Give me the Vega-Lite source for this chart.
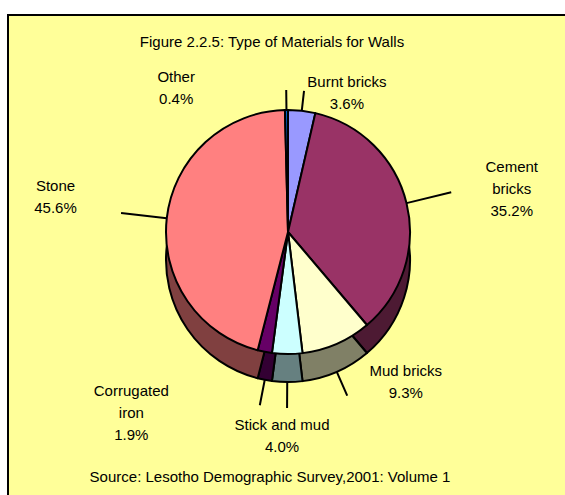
{
  "$schema": "https://vega.github.io/schema/vega-lite/v6.json",
  "width": 560,
  "height": 485,
  "autosize": "none",
  "padding": {"left": 8, "top": 15, "right": 0, "bottom": 0},
  "background": "white",
  "view": {"fill": "#ffff99", "stroke": "black", "strokeWidth": 2},
  "config": {
    "font": "Liberation Sans",
    "text": {"font": "Liberation Sans", "fontSize": 15, "color": "black"}
  },
  "data": {
    "values": [
      {"type": "Burnt bricks", "share": 3.6, "idx": 1, "label": "Burnt bricks\n3.6%"},
      {"type": "Cement bricks", "share": 35.2, "idx": 2, "label": "Cement\nbricks\n35.2%"},
      {"type": "Mud bricks", "share": 9.3, "idx": 3, "label": "Mud bricks\n9.3%"},
      {"type": "Stick and mud", "share": 4.0, "idx": 4, "label": "Stick and mud\n4.0%"},
      {"type": "Corrugated iron", "share": 1.9, "idx": 5, "label": "Corrugated\niron\n1.9%"},
      {"type": "Stone", "share": 45.6, "idx": 6, "label": "Stone\n45.6%"},
      {"type": "Other", "share": 0.4, "idx": 7, "label": "Other\n0.4%"}
    ]
  },
  "resolve": {"scale": {"color": "independent"}},
  "layer": [
    {
      "mark": {"type": "arc", "y": 245, "radius": 122, "stroke": "black", "strokeWidth": 2, "strokeJoin": "round"},
      "encoding": {
        "theta": {"field": "share", "type": "quantitative", "stack": true},
        "order": {"field": "idx", "type": "quantitative"},
        "color": {
          "field": "type", "type": "nominal", "legend": null,
          "scale": {
            "domain": ["Burnt bricks", "Cement bricks", "Mud bricks", "Stick and mud", "Corrugated iron", "Stone", "Other"],
            "range": ["#4c4c80", "#4d1a33", "#808066", "#668080", "#330033", "#804040", "#003366"]
          }
        }
      }
    },
    {
      "mark": {"type": "arc", "y": 217, "radius": 122, "stroke": "black", "strokeWidth": 2, "strokeJoin": "round"},
      "encoding": {
        "theta": {"field": "share", "type": "quantitative", "stack": true},
        "order": {"field": "idx", "type": "quantitative"},
        "color": {
          "field": "type", "type": "nominal", "legend": null,
          "scale": {
            "domain": ["Burnt bricks", "Cement bricks", "Mud bricks", "Stick and mud", "Corrugated iron", "Stone", "Other"],
            "range": ["#9999ff", "#993366", "#ffffcc", "#ccffff", "#660066", "#ff8080", "#0066cc"]
          }
        }
      }
    },
    {
      "mark": {"type": "arc", "y": 217, "radius": 142, "radius2": 122, "padAngle": 3, "fill": "transparent", "stroke": "black", "strokeWidth": 2},
      "encoding": {
        "theta": {"field": "share", "type": "quantitative", "stack": true},
        "order": {"field": "idx", "type": "quantitative"},
        "strokeOpacity": {"condition": {"test": "datum.type === 'Burnt bricks' || datum.type === 'Other'", "value": 1}, "value": 0}
      }
    },
    {
      "mark": {"type": "arc", "y": 217, "radius": 168, "radius2": 122, "padAngle": 3, "fill": "transparent", "stroke": "black", "strokeWidth": 2},
      "encoding": {
        "theta": {"field": "share", "type": "quantitative", "stack": true},
        "order": {"field": "idx", "type": "quantitative"},
        "strokeOpacity": {"condition": {"test": "datum.type === 'Cement bricks' || datum.type === 'Stone'", "value": 1}, "value": 0}
      }
    },
    {
      "mark": {"type": "arc", "y": 245, "radius": 148, "radius2": 122, "padAngle": 3, "fill": "transparent", "stroke": "black", "strokeWidth": 2},
      "encoding": {
        "theta": {"field": "share", "type": "quantitative", "stack": true},
        "order": {"field": "idx", "type": "quantitative"},
        "strokeOpacity": {"condition": {"test": "datum.type === 'Mud bricks' || datum.type === 'Stick and mud' || datum.type === 'Corrugated iron'", "value": 1}, "value": 0}
      }
    },
    {
      "mark": {"type": "text", "y": 217, "radius": 161, "thetaOffset": 0.2616, "lineHeight": 22, "lineBreak": "\n", "align": "center", "baseline": "middle"},
      "encoding": {
        "theta": {"field": "share", "type": "quantitative", "stack": true},
        "order": {"field": "idx", "type": "quantitative"},
        "text": {"condition": {"test": "datum.type === 'Burnt bricks'", "field": "label"}, "value": ""}
      }
    },
    {
      "mark": {"type": "text", "y": 217, "radius": 233, "thetaOffset": -0.0436, "lineHeight": 22, "lineBreak": "\n", "align": "center", "baseline": "middle"},
      "encoding": {
        "theta": {"field": "share", "type": "quantitative", "stack": true},
        "order": {"field": "idx", "type": "quantitative"},
        "text": {"condition": {"test": "datum.type === 'Cement bricks'", "field": "label"}, "value": ""}
      }
    },
    {
      "mark": {"type": "text", "y": 217, "radius": 182, "thetaOffset": -0.2923, "lineHeight": 22, "lineBreak": "\n", "align": "center", "baseline": "middle"},
      "encoding": {
        "theta": {"field": "share", "type": "quantitative", "stack": true},
        "order": {"field": "idx", "type": "quantitative"},
        "text": {"condition": {"test": "datum.type === 'Mud bricks'", "field": "label"}, "value": ""}
      }
    },
    {
      "mark": {"type": "text", "y": 217, "radius": 193, "thetaOffset": 0.0248, "lineHeight": 22, "lineBreak": "\n", "align": "center", "baseline": "middle"},
      "encoding": {
        "theta": {"field": "share", "type": "quantitative", "stack": true},
        "order": {"field": "idx", "type": "quantitative"},
        "text": {"condition": {"test": "datum.type === 'Stick and mud'", "field": "label"}, "value": ""}
      }
    },
    {
      "mark": {"type": "text", "y": 217, "radius": 223, "thetaOffset": 0.5875, "lineHeight": 22, "lineBreak": "\n", "align": "center", "baseline": "middle"},
      "encoding": {
        "theta": {"field": "share", "type": "quantitative", "stack": true},
        "order": {"field": "idx", "type": "quantitative"},
        "text": {"condition": {"test": "datum.type === 'Corrugated iron'", "field": "label"}, "value": ""}
      }
    },
    {
      "mark": {"type": "text", "y": 217, "radius": 237, "thetaOffset": 0.0819, "lineHeight": 22, "lineBreak": "\n", "align": "center", "baseline": "middle"},
      "encoding": {
        "theta": {"field": "share", "type": "quantitative", "stack": true},
        "order": {"field": "idx", "type": "quantitative"},
        "text": {"condition": {"test": "datum.type === 'Stone'", "field": "label"}, "value": ""}
      }
    },
    {
      "mark": {"type": "text", "y": 217, "radius": 191, "thetaOffset": -0.6131, "lineHeight": 22, "lineBreak": "\n", "align": "center", "baseline": "middle"},
      "encoding": {
        "theta": {"field": "share", "type": "quantitative", "stack": true},
        "order": {"field": "idx", "type": "quantitative"},
        "text": {"condition": {"test": "datum.type === 'Other'", "field": "label"}, "value": ""}
      }
    },
    {
      "data": {"values": [{"note": "Figure 2.2.5: Type of Materials for Walls"}]},
      "mark": {"type": "text", "x": 264, "y": 32, "align": "center", "baseline": "alphabetic"},
      "encoding": {"text": {"field": "note", "type": "nominal"}}
    },
    {
      "data": {"values": [{"note": "Source: Lesotho Demographic Survey,2001: Volume 1"}]},
      "mark": {"type": "text", "x": 262, "y": 467, "align": "center", "baseline": "alphabetic"},
      "encoding": {"text": {"field": "note", "type": "nominal"}}
    }
  ]
}
